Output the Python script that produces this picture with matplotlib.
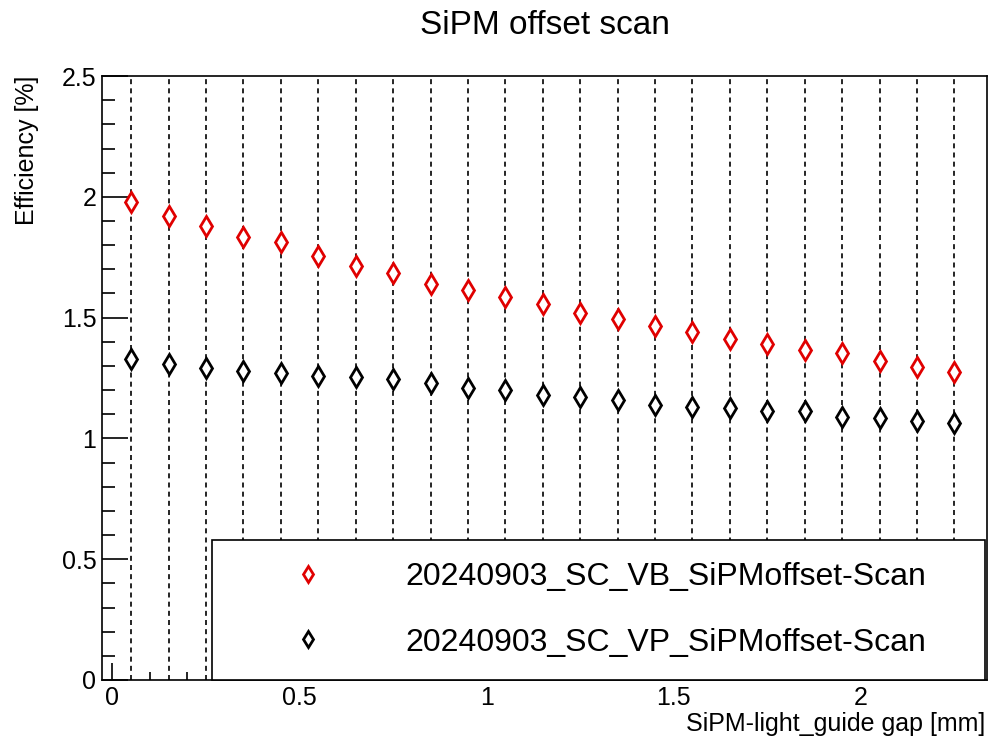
import matplotlib.pyplot as plt
import numpy as np

plt.rcParams['font.family'] = ['Liberation Sans', 'DejaVu Sans']

# SiPM-light guide gap [mm]
gap = [0.05, 0.15, 0.25, 0.35, 0.45, 0.55, 0.65, 0.75, 0.85, 0.95, 1.05, 1.15,
       1.25, 1.35, 1.45, 1.55, 1.65, 1.75, 1.85, 1.95, 2.05, 2.15, 2.25]

# efficiency [%]
eff_vb = [1.98, 1.92, 1.88, 1.835, 1.815, 1.755, 1.715, 1.685, 1.64, 1.615, 1.585, 1.555,
          1.52, 1.495, 1.465, 1.44, 1.41, 1.39, 1.365, 1.355, 1.32, 1.295, 1.275]
eff_vp = [1.33, 1.31, 1.29, 1.28, 1.27, 1.26, 1.255, 1.245, 1.23, 1.21, 1.20, 1.18,
          1.17, 1.16, 1.14, 1.13, 1.125, 1.115, 1.115, 1.09, 1.085, 1.07, 1.065]

label_vb = "20240903_SC_VB_SiPMoffset-Scan"
label_vp = "20240903_SC_VP_SiPMoffset-Scan"

fig = plt.figure(figsize=(9.88, 7.36), dpi=100)
ax = fig.add_axes([0.1032, 0.0761, 0.8958, 0.8206])

for g in gap:
    ax.axvline(g, color="black", ls=(0, (3, 2.5)), lw=1.2, zorder=1)

ax.plot(gap, eff_vb, ls="none", marker="d", ms=10, mew=2, mec="#e00000",
        mfc="white", label=label_vb, zorder=3)
ax.plot(gap, eff_vp, ls="none", marker="d", ms=10, mew=2, mec="black",
        mfc="white", label=label_vp, zorder=3)

ax.set_xlim(-0.028, 2.337)
ax.set_ylim(0, 2.5)

ax.set_xticks(np.arange(0, 2.01, 0.5))
ax.set_xticklabels(["0", "0.5", "1", "1.5", "2"])
ax.set_xticks(np.arange(0, 2.34, 0.1), minor=True)
ax.set_yticks(np.arange(0, 2.51, 0.5))
ax.set_yticklabels(["0", "0.5", "1", "1.5", "2", "2.5"])
ax.set_yticks(np.arange(0, 2.51, 0.1), minor=True)

ax.tick_params(axis="both", which="both", direction="in", labelsize=18, width=1.2)
ax.tick_params(axis="y", which="major", length=19, pad=4)
ax.tick_params(axis="y", which="minor", length=9)
ax.tick_params(axis="x", which="major", length=12, pad=4)
ax.tick_params(axis="x", which="minor", length=6)
for s in ax.spines.values():
    s.set_linewidth(1.2)

ax.set_title("SiPM offset scan", fontsize=24, pad=30)
ax.set_xlabel("SiPM-light_guide gap [mm]", fontsize=18, loc="right")
ax.xaxis.set_label_coords(0.998, -0.053)
ax.xaxis.label.set_va("top")
ax.set_ylabel("Efficiency [%]", fontsize=18, loc="top", labelpad=16)

leg = ax.legend(loc="lower left", bbox_to_anchor=(0.1243, 0, 0.8734, 0.2285),
                mode="expand", borderaxespad=0, fontsize=23, fancybox=False,
                edgecolor="black", framealpha=1, markerscale=0.85,
                handlelength=4.6, handletextpad=0.75, borderpad=0.7, labelspacing=1.1)
leg.get_frame().set_linewidth(1.2)
leg.set_zorder(5)

fig.savefig("out.png", dpi=100)
